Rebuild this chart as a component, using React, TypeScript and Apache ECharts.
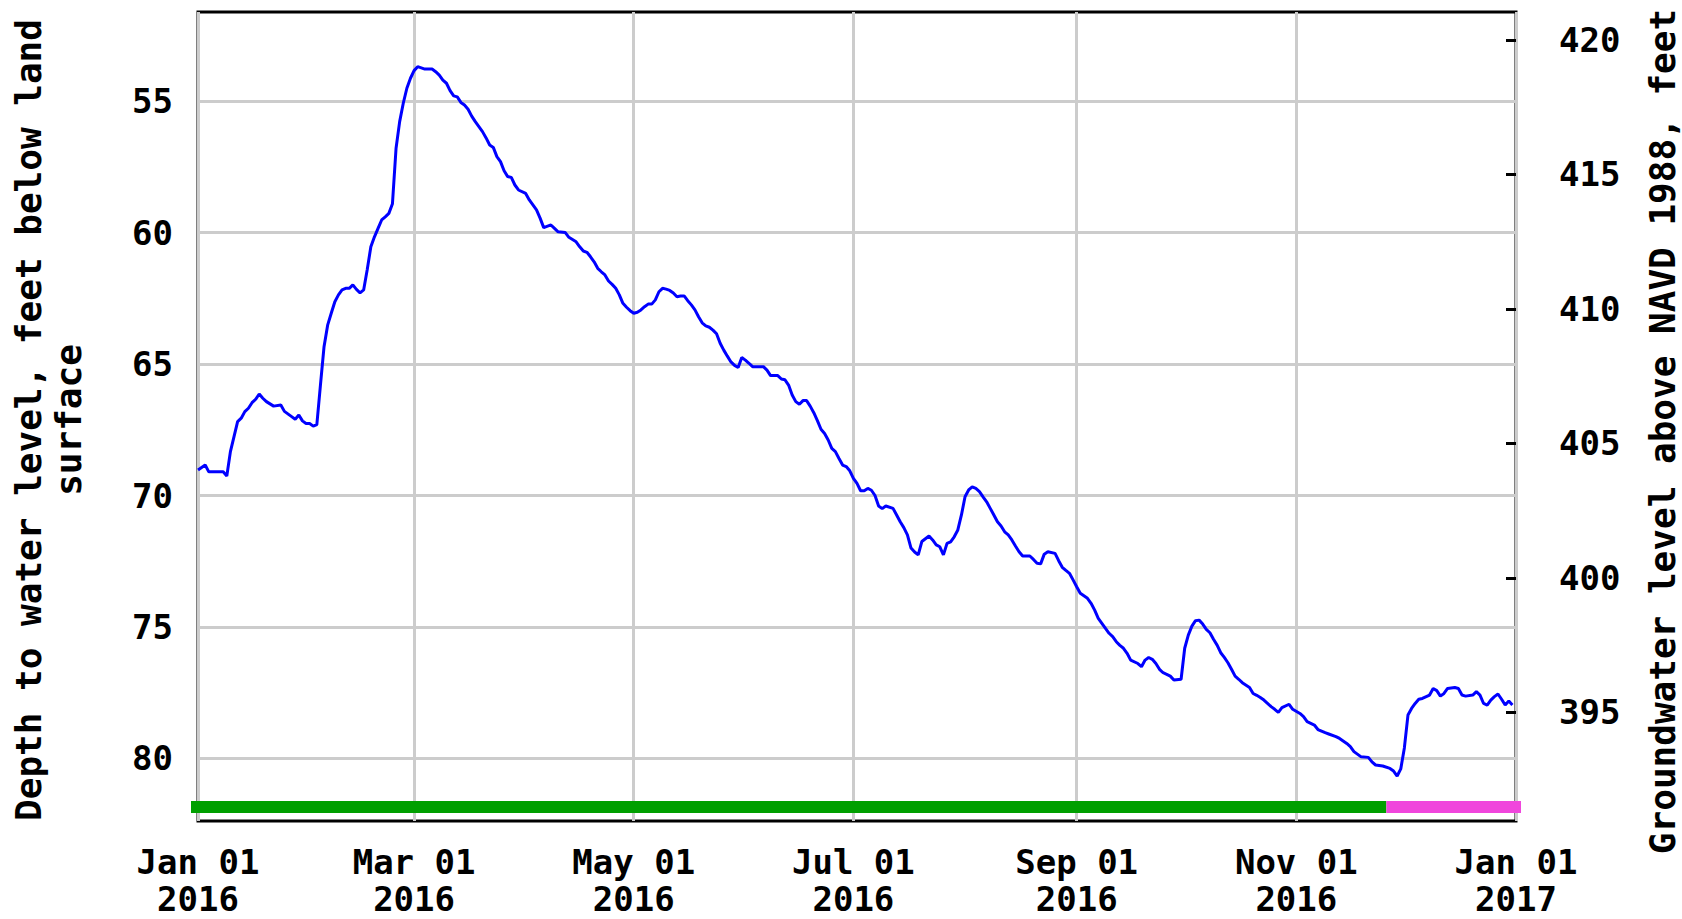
import React, { useEffect, useRef } from "react";
import * as echarts from "echarts";

// ---- Data ----
const dates = [
  "2016-01-01","2016-01-03","2016-01-04","2016-01-08","2016-01-09","2016-01-10","2016-01-11","2016-01-12","2016-01-13","2016-01-14",
  "2016-01-15","2016-01-16","2016-01-17","2016-01-18","2016-01-19","2016-01-20","2016-01-22","2016-01-24","2016-01-25","2016-01-27",
  "2016-01-28","2016-01-29","2016-01-30","2016-01-31","2016-02-01","2016-02-02","2016-02-03","2016-02-04","2016-02-05","2016-02-06",
  "2016-02-07","2016-02-08","2016-02-09","2016-02-10","2016-02-11","2016-02-12","2016-02-13","2016-02-14","2016-02-15","2016-02-16",
  "2016-02-17","2016-02-18","2016-02-19","2016-02-20","2016-02-21","2016-02-22","2016-02-23","2016-02-24","2016-02-25","2016-02-26",
  "2016-02-27","2016-02-28","2016-02-29","2016-03-01","2016-03-02","2016-03-04","2016-03-06","2016-03-07","2016-03-08","2016-03-09",
  "2016-03-10","2016-03-11","2016-03-12","2016-03-13","2016-03-14","2016-03-15","2016-03-16","2016-03-17","2016-03-18","2016-03-19",
  "2016-03-20","2016-03-21","2016-03-22","2016-03-23","2016-03-24","2016-03-25","2016-03-26","2016-03-27","2016-03-28","2016-03-29",
  "2016-03-30","2016-04-01","2016-04-02","2016-04-03","2016-04-04","2016-04-05","2016-04-06","2016-04-08","2016-04-09","2016-04-10",
  "2016-04-12","2016-04-13","2016-04-15","2016-04-16","2016-04-17","2016-04-18","2016-04-19","2016-04-20","2016-04-21","2016-04-22",
  "2016-04-23","2016-04-24","2016-04-25","2016-04-26","2016-04-27","2016-04-28","2016-04-29","2016-04-30","2016-05-01","2016-05-02",
  "2016-05-03","2016-05-04","2016-05-05","2016-05-06","2016-05-07","2016-05-08","2016-05-09","2016-05-10","2016-05-11","2016-05-12",
  "2016-05-13","2016-05-14","2016-05-15","2016-05-16","2016-05-17","2016-05-18","2016-05-19","2016-05-20","2016-05-21","2016-05-22",
  "2016-05-23","2016-05-24","2016-05-25","2016-05-26","2016-05-27","2016-05-28","2016-05-29","2016-05-30","2016-05-31","2016-06-01",
  "2016-06-02","2016-06-03","2016-06-05","2016-06-06","2016-06-07","2016-06-08","2016-06-10","2016-06-11","2016-06-12","2016-06-13",
  "2016-06-14","2016-06-15","2016-06-16","2016-06-17","2016-06-18","2016-06-19","2016-06-20","2016-06-21","2016-06-22","2016-06-23",
  "2016-06-24","2016-06-25","2016-06-26","2016-06-27","2016-06-28","2016-06-29","2016-06-30","2016-07-01","2016-07-02","2016-07-03",
  "2016-07-04","2016-07-05","2016-07-06","2016-07-07","2016-07-08","2016-07-09","2016-07-10","2016-07-12","2016-07-13","2016-07-14",
  "2016-07-15","2016-07-16","2016-07-17","2016-07-18","2016-07-19","2016-07-20","2016-07-22","2016-07-23","2016-07-24","2016-07-25",
  "2016-07-26","2016-07-27","2016-07-28","2016-07-29","2016-07-30","2016-07-31","2016-08-01","2016-08-02","2016-08-03","2016-08-04",
  "2016-08-05","2016-08-06","2016-08-07","2016-08-08","2016-08-09","2016-08-10","2016-08-11","2016-08-12","2016-08-13","2016-08-14",
  "2016-08-15","2016-08-16","2016-08-17","2016-08-19","2016-08-20","2016-08-21","2016-08-22","2016-08-23","2016-08-24","2016-08-26",
  "2016-08-27","2016-08-28","2016-08-29","2016-08-30","2016-08-31","2016-09-01","2016-09-02","2016-09-04","2016-09-05","2016-09-06",
  "2016-09-07","2016-09-08","2016-09-09","2016-09-10","2016-09-11","2016-09-12","2016-09-13","2016-09-14","2016-09-15","2016-09-16",
  "2016-09-18","2016-09-19","2016-09-20","2016-09-21","2016-09-22","2016-09-23","2016-09-24","2016-09-25","2016-09-26","2016-09-27",
  "2016-09-28","2016-09-30","2016-10-01","2016-10-02","2016-10-03","2016-10-04","2016-10-05","2016-10-06","2016-10-07","2016-10-08",
  "2016-10-09","2016-10-10","2016-10-11","2016-10-12","2016-10-13","2016-10-14","2016-10-15","2016-10-16","2016-10-17","2016-10-19",
  "2016-10-20","2016-10-21","2016-10-22","2016-10-23","2016-10-25","2016-10-26","2016-10-27","2016-10-28","2016-10-30","2016-10-31",
  "2016-11-02","2016-11-03","2016-11-04","2016-11-06","2016-11-07","2016-11-09","2016-11-10","2016-11-12","2016-11-13","2016-11-15",
  "2016-11-16","2016-11-17","2016-11-19","2016-11-21","2016-11-22","2016-11-23","2016-11-25","2016-11-27","2016-11-28","2016-11-29",
  "2016-11-30","2016-12-01","2016-12-02","2016-12-03","2016-12-04","2016-12-05","2016-12-06","2016-12-08","2016-12-09","2016-12-10",
  "2016-12-11","2016-12-12","2016-12-13","2016-12-15","2016-12-16","2016-12-17","2016-12-18","2016-12-20","2016-12-21","2016-12-22",
  "2016-12-23","2016-12-24","2016-12-25","2016-12-26","2016-12-27","2016-12-28","2016-12-29","2016-12-30","2016-12-31",
];

const depths = [
  69.03,68.84,69.10,69.10,69.26,68.33,67.76,67.19,67.06,66.81,
  66.68,66.47,66.34,66.14,66.30,66.43,66.60,66.56,66.80,67.00,
  67.10,66.94,67.16,67.26,67.26,67.36,67.30,65.80,64.34,63.52,
  63.07,62.63,62.37,62.18,62.12,62.12,61.99,62.16,62.29,62.18,
  61.40,60.54,60.16,59.84,59.52,59.40,59.27,58.90,56.79,55.78,
  55.08,54.51,54.13,53.84,53.69,53.78,53.78,53.88,54.01,54.20,
  54.32,54.60,54.80,54.84,55.05,55.15,55.31,55.57,55.78,55.97,
  56.16,56.40,56.67,56.76,57.11,57.30,57.65,57.87,57.90,58.19,
  58.38,58.51,58.76,58.95,59.14,59.45,59.81,59.71,59.84,59.97,
  60.00,60.18,60.35,60.54,60.70,60.75,60.92,61.11,61.36,61.49,
  61.61,61.84,61.97,62.12,62.37,62.69,62.84,62.97,63.07,63.03,
  62.94,62.82,62.72,62.72,62.56,62.25,62.12,62.15,62.20,62.30,
  62.44,62.41,62.41,62.59,62.75,62.94,63.20,63.43,63.55,63.60,
  63.71,63.85,64.21,64.47,64.70,64.92,65.05,65.13,64.75,64.85,
  64.97,65.10,65.10,65.10,65.23,65.44,65.44,65.57,65.60,65.80,
  66.18,66.43,66.53,66.39,66.39,66.60,66.85,67.15,67.48,67.64,
  67.89,68.21,68.33,68.59,68.84,68.90,69.06,69.35,69.54,69.82,
  69.82,69.73,69.80,70.00,70.40,70.50,70.40,70.49,70.74,71.00,
  71.22,71.50,72.00,72.15,72.26,71.75,71.54,71.69,71.88,71.95,
  72.26,71.82,71.76,71.57,71.31,70.74,70.05,69.79,69.67,69.73,
  69.85,70.05,70.24,70.49,70.74,71.00,71.16,71.38,71.50,71.69,
  71.92,72.14,72.30,72.30,72.43,72.58,72.60,72.23,72.14,72.20,
  72.48,72.73,72.85,72.96,73.21,73.47,73.72,73.91,74.10,74.36,
  74.67,74.86,75.05,75.24,75.37,75.56,75.70,75.81,76.00,76.26,
  76.39,76.51,76.26,76.16,76.23,76.39,76.61,76.74,76.80,76.87,
  77.02,76.99,75.81,75.31,74.97,74.76,74.74,74.89,75.09,75.22,
  75.47,75.69,75.98,76.16,76.36,76.61,76.87,76.99,77.12,77.30,
  77.53,77.60,77.68,77.78,78.03,78.13,78.25,78.07,77.94,78.13,
  78.29,78.41,78.60,78.73,78.90,79.02,79.07,79.17,79.24,79.43,
  79.55,79.74,79.94,79.96,80.13,80.25,80.29,80.38,80.48,80.67,
  80.40,79.60,78.35,78.10,77.91,77.75,77.72,77.59,77.34,77.42,
  77.63,77.53,77.34,77.30,77.34,77.59,77.63,77.59,77.46,77.59,
  77.91,77.97,77.78,77.65,77.55,77.75,77.97,77.82,77.97,
];

const depthTicks = [55, 60, 65, 70, 75, 80];
const elevationTicks = [395, 400, 405, 410, 415, 420];
const dateTicks = ["2016-01-01", "2016-03-01", "2016-05-01", "2016-07-01", "2016-09-01", "2016-11-01", "2017-01-01"];
const depthRange = [51.61, 82.38];
const elevationRange = [390.96, 421.04];
const dateRange = ["2016-01-01", "2017-01-01"];

const periodStarts = ["2016-01-01", "2016-11-26"];
const periodEnds = ["2016-11-26", "2017-01-01"];
const periodStatus = ["Approved", "Provisional"];

const MONTHS = ["Jan", "Feb", "Mar", "Apr", "May", "Jun", "Jul", "Aug", "Sep", "Oct", "Nov", "Dec"];
const STATUS_COLORS: Record<string, string> = { Approved: "#009f00", Provisional: "#f046dc" };
const FONT = "'DejaVu Sans Mono', 'Liberation Mono', monospace";

const toTime = (s: string) => Date.parse(s + "T00:00:00Z");

export default function App() {
  const ref = useRef<HTMLDivElement>(null);

  useEffect(() => {
    document.body.style.margin = "0";
    document.body.style.overflow = "hidden";
    if (!ref.current) return;
    const chart = echarts.init(ref.current, undefined, { renderer: "svg" });
    const xMin = toTime(dateRange[0]);
    const xMax = toTime(dateRange[1]);

    const labelStyle = {
      color: "#000",
      fontFamily: FONT,
      fontWeight: "bold" as const,
      fontSize: 34,
    };

    chart.setOption({
      animation: false,
      backgroundColor: "#fff",
      grid: {
        left: 198,
        right: 166,
        top: 12,
        bottom: 98,
        show: true,
        borderColor: "#000",
        borderWidth: 3,
        backgroundColor: "#fff",
        containLabel: false,
        outerBoundsMode: "none",
      },
      xAxis: {
        type: "value",
        min: xMin,
        max: xMax,
        axisLine: { show: false },
        axisTick: { show: false, customValues: dateTicks.map(toTime) },
        splitLine: { show: true, lineStyle: { color: "#cccccc", width: 3 } },
        axisLabel: {
          ...labelStyle,
          customValues: dateTicks.map(toTime),
          margin: 22,
          lineHeight: 37,
          formatter: (v: number) => {
            const d = new Date(v);
            return `${MONTHS[d.getUTCMonth()]} ${String(d.getUTCDate()).padStart(2, "0")}\n${d.getUTCFullYear()}`;
          },
        },
      },
      yAxis: [
        {
          type: "value",
          inverse: true,
          min: depthRange[0],
          max: depthRange[1],
          position: "left",
          name: "Depth to water level, feet below land\nsurface",
          nameLocation: "middle",
          nameGap: 110,
          nameTextStyle: {
            color: "#000",
            fontFamily: FONT,
            fontWeight: "bold",
            fontSize: 36,
            lineHeight: 40,
            padding: [0, 7, 0, 0],
          },
          axisLine: { show: false },
          axisTick: { show: false, customValues: depthTicks },
          splitLine: { show: true, lineStyle: { color: "#cccccc", width: 3 } },
          axisLabel: { ...labelStyle, customValues: depthTicks, margin: 25 },
        },
        {
          type: "value",
          min: elevationRange[0],
          max: elevationRange[1],
          position: "right",
          name: "Groundwater level above NAVD 1988, feet",
          nameLocation: "middle",
          nameGap: 126,
          nameTextStyle: {
            color: "#000",
            fontFamily: FONT,
            fontWeight: "bold",
            fontSize: 36,
            lineHeight: 40,
            padding: [0, 30, 0, 0],
          },
          axisLine: { show: false },
          axisTick: {
            show: true,
            inside: true,
            length: 10,
            customValues: elevationTicks,
            lineStyle: { color: "#000", width: 3 },
          },
          splitLine: { show: false },
          axisLabel: { ...labelStyle, customValues: elevationTicks, margin: 43 },
        },
      ],
      series: [
        {
          type: "line",
          xAxisIndex: 0,
          yAxisIndex: 0,
          data: dates.map((d, i) => [toTime(d), depths[i]]),
          showSymbol: false,
          symbol: "none",
          lineStyle: { color: "#0000ff", width: 3 },
          z: 4,
        },
        {
          type: "custom",
          xAxisIndex: 0,
          yAxisIndex: 0,
          clip: false,
          silent: true,
          z: 3,
          data: periodStarts.map((s, i) => [toTime(s), toTime(periodEnds[i]), i]),
          encode: { x: [0, 1] },
          renderItem: (params: any, api: any) => {
            const cs = params.coordSys;
            const s = api.value(0);
            const e = api.value(1);
            const x0 = api.coord([s, depthRange[1]])[0];
            const x1 = api.coord([e, depthRange[1]])[0];
            const left = s <= xMin ? x0 - 7 : x0;
            const right = e >= xMax ? x1 + 5 : x1;
            return {
              type: "rect",
              shape: { x: left, y: cs.y + cs.height - 20, width: right - left, height: 12 },
              style: { fill: STATUS_COLORS[periodStatus[api.value(2)]] },
            };
          },
        },
      ],
    });

    return () => chart.dispose();
  }, []);

  return <div ref={ref} style={{ width: 1682, height: 919 }} />;
}
